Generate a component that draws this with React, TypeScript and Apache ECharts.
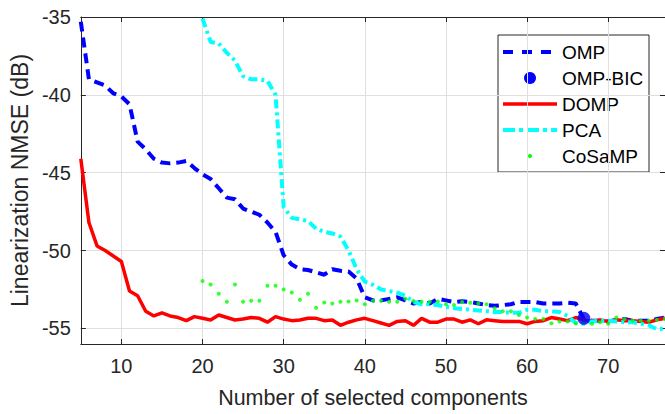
import React, { useEffect, useRef } from "react";
import * as echarts from "echarts";

const N = [5, 6, 7, 8, 9, 10, 11, 12, 13, 14, 15, 16, 17, 18, 19, 20, 21, 22, 23, 24, 25, 26, 27, 28, 29, 30, 31, 32, 33, 34, 35, 36, 37, 38, 39, 40, 41, 42, 43, 44, 45, 46, 47, 48, 49, 50, 51, 52, 53, 54, 55, 56, 57, 58, 59, 60, 61, 62, 63, 64, 65, 66, 67, 68, 69, 70, 71, 72, 73, 74, 75, 76, 77];

const OMP = [
  -35.3, -39.0, -39.2, -39.4, -39.9, -40.1, -40.6, -43.0, -43.5, -44.1,
  -44.35, -44.4, -44.35, -44.25, -44.7, -45.1, -45.4, -46.0, -46.6, -46.7,
  -47.3, -47.5, -47.7, -48.2, -48.8, -50.3, -50.9, -51.2, -51.25, -51.4,
  -51.55, -51.2, -51.3, -51.35, -51.8, -53.0, -53.2, -53.2, -53.1, -53.0,
  -53.2, -53.4, -53.3, -53.4, -53.1, -53.2, -53.3, -53.25, -53.3, -53.4,
  -53.5, -53.55, -53.5, -53.45, -53.3, -53.3, -53.3, -53.4, -53.4, -53.4,
  -53.35, -53.4, -54.4, -54.5, -54.5, -54.55, -54.45, -54.4, -54.5, -54.5,
  -54.5, -54.4, -54.3,
];

const OMP_BIC_N = [67];
const OMP_BIC = [-54.35];

const DOMP = [
  -44.1, -48.2, -49.7, -50.0, -50.35, -50.7, -52.6, -52.9, -53.9, -54.2,
  -54.0, -54.2, -54.3, -54.5, -54.24, -54.35, -54.46, -54.14, -54.3, -54.46,
  -54.4, -54.3, -54.35, -54.6, -54.24, -54.4, -54.5, -54.46, -54.35, -54.35,
  -54.5, -54.46, -54.8, -54.6, -54.45, -54.35, -54.5, -54.65, -54.8, -54.55,
  -54.5, -54.8, -54.35, -54.6, -54.6, -54.4, -54.4, -54.6, -54.45, -54.7,
  -54.45, -54.5, -54.55, -54.55, -54.55, -54.7, -54.55, -54.5, -54.3, -54.4,
  -54.5, -54.3, -54.45, -54.55, -54.45, -54.55, -54.45, -54.5, -54.5, -54.55,
  -54.6, -54.45, -54.35,
];

const PCA = [
  null, null, null, null, null, null, null, null, null, null,
  null, null, null, null, null, -35.1, -36.6, -36.7, -37.3, -37.8,
  -38.8, -39.0, -39.0, -39.1, -40.0, -47.2, -47.9, -48.0, -48.1, -48.6,
  -48.8, -48.9, -49.1, -50.0, -51.2, -52.0, -52.2, -52.5, -52.6, -52.7,
  -52.9, -53.3, -53.45, -53.45, -53.5, -53.6, -53.7, -53.75, -53.8, -53.85,
  -53.9, -53.95, -53.95, -54.0, -54.0, -53.8, -53.8, -53.9, -53.9, -53.95,
  -54.2, -54.65, -54.7, -54.55, -54.5, -54.5, -54.55, -54.6, -54.6, -54.7,
  -54.8, -55.05, -55.0,
];

const COSAMP = [
  null, null, null, null, null, null, null, null, null, null,
  null, null, null, null, null, -51.95, -52.18, -52.77, -53.28, -52.18,
  -53.28, -53.22, -53.22, -52.26, -52.26, -52.5, -52.69, -53.16, -52.77, -53.67,
  -53.33, -53.4, -53.28, -53.27, -53.2, -53.45, -53.22, -53.22, -53.28, -53.28,
  -53.1, -53.24, -53.28, -53.28, -53.27, -53.45, -53.5, -53.3, -53.35, -53.4,
  -53.45, -53.7, -53.9, -53.9, -54.14, -54.3, -54.4, -54.4, -54.67, -54.56,
  -54.56, -54.67, -54.6, -54.7, -54.6, -54.7, -54.3, -54.4, -54.5, -54.5,
  -54.5, -54.45, -54.4,
];

const X_TICKS = [10, 20, 30, 40, 50, 60, 70];
const Y_TICKS = [-55, -50, -45, -40, -35];
const LEGEND_NAMES = ["OMP", "OMP-BIC", "DOMP", "PCA", "CoSaMP"];

const FONT = "'Liberation Sans', Arial, Helvetica, sans-serif";
const AXIS_COLOR = "#262626";

function pairs(xs: number[], vals: (number | null)[]) {
  const out: number[][] = [];
  xs.forEach((x, i) => {
    const v = vals[i];
    if (v !== null && v !== undefined) out.push([x, v]);
  });
  return out;
}

export default function App() {
  const ref = useRef<HTMLDivElement>(null);

  useEffect(() => {
    if (!ref.current) return;
    const chart = echarts.init(ref.current, null, { renderer: "svg" });

    const baseX = {
      type: "value",
      min: 5,
      max: 77,
      axisLine: { show: true, onZero: false, lineStyle: { color: AXIS_COLOR, width: 1 } },
      axisTick: { show: true, inside: true, length: 5, customValues: X_TICKS, lineStyle: { color: AXIS_COLOR, width: 1 } },
    };
    const baseY = {
      type: "value",
      min: -56,
      max: -35,
      axisLine: { show: true, onZero: false, lineStyle: { color: AXIS_COLOR, width: 1 } },
      axisTick: { show: true, inside: true, length: 5, customValues: Y_TICKS, lineStyle: { color: AXIS_COLOR, width: 1 } },
    };

    // legend (drawn with graphic)
    const legendX = 498;
    const legendY = 35;
    const rowY = [52, 78, 104, 130, 156];
    const iconX1 = 503;
    const iconX2 = 557;
    const iconC = 530;
    const legendChildren: any[] = [
      {
        type: "rect",
        shape: { x: legendX, y: legendY, width: 151, height: 137 },
        style: { fill: "#ffffff", stroke: AXIS_COLOR, lineWidth: 1 },
      },
      {
        type: "line",
        shape: { x1: iconX1, y1: rowY[0], x2: iconX2, y2: rowY[0] },
        style: { stroke: "#0000ff", lineWidth: 4, lineDash: [10, 9] },
      },
      {
        type: "circle",
        shape: { cx: iconC, cy: rowY[1], r: 6 },
        style: { fill: "#0000ff" },
      },
      {
        type: "line",
        shape: { x1: iconX1, y1: rowY[2], x2: iconX2, y2: rowY[2] },
        style: { stroke: "#ff0000", lineWidth: 3.5 },
      },
      {
        type: "line",
        shape: { x1: iconX1, y1: rowY[3], x2: iconX2, y2: rowY[3] },
        style: { stroke: "#00ffff", lineWidth: 4, lineDash: [12, 4, 4, 4] },
      },
      {
        type: "circle",
        shape: { cx: iconC, cy: rowY[4], r: 2 },
        style: { fill: "#00ff00" },
      },
    ];
    LEGEND_NAMES.forEach((name, i) => {
      legendChildren.push({
        type: "text",
        x: 562,
        y: rowY[i],
        style: {
          text: name,
          fontSize: 19,
          fontFamily: FONT,
          fill: "#000000",
          verticalAlign: "middle",
          align: "left",
        },
      });
    });

    chart.setOption({
      animation: false,
      backgroundColor: "#ffffff",
      grid: { left: 77, top: 17, right: 0, bottom: 68, containLabel: false },
      xAxis: [
        {
          ...baseX,
          position: "bottom",
          axisLabel: { show: true, customValues: X_TICKS, margin: 12, fontSize: 20, color: AXIS_COLOR, fontFamily: FONT },
          splitLine: { show: true, lineStyle: { color: "#dfdfdf", width: 1 } },
          name: "Number of selected components",
          nameLocation: "middle",
          nameGap: 43,
          nameTextStyle: { fontSize: 21.5, color: AXIS_COLOR, fontFamily: FONT },
        },
        {
          ...baseX,
          position: "top",
          axisLabel: { show: false },
          splitLine: { show: false },
        },
      ],
      yAxis: [
        {
          ...baseY,
          position: "left",
          axisLabel: { show: true, customValues: Y_TICKS, margin: 10, fontSize: 20, color: AXIS_COLOR, fontFamily: FONT },
          splitLine: { show: true, lineStyle: { color: "#dfdfdf", width: 1 } },
          name: "Linearization NMSE (dB)",
          nameLocation: "middle",
          nameGap: 45,
          nameTextStyle: { fontSize: 23, color: AXIS_COLOR, fontFamily: FONT },
        },
        {
          ...baseY,
          position: "right",
          axisLabel: { show: false },
          splitLine: { show: false },
        },
      ],
      series: [
        {
          name: "OMP",
          type: "line",
          data: pairs(N, OMP),
          showSymbol: false,
          lineStyle: { color: "#0000ff", width: 4, type: [10, 6] },
          itemStyle: { color: "#0000ff" },
          z: 2,
        },
        {
          name: "DOMP",
          type: "line",
          data: pairs(N, DOMP),
          showSymbol: false,
          lineStyle: { color: "#ff0000", width: 3.5 },
          itemStyle: { color: "#ff0000" },
          z: 2,
        },
        {
          name: "PCA",
          type: "line",
          data: pairs(N, PCA),
          showSymbol: false,
          lineStyle: { color: "#00ffff", width: 4, type: [9, 4, 3, 4] },
          itemStyle: { color: "#00ffff" },
          z: 2,
        },
        {
          name: "CoSaMP",
          type: "scatter",
          data: pairs(N, COSAMP),
          symbol: "circle",
          symbolSize: 4,
          itemStyle: { color: "#00ff00" },
          z: 3,
        },
        {
          name: "OMP-BIC",
          type: "scatter",
          data: pairs(OMP_BIC_N, OMP_BIC),
          symbol: "circle",
          symbolSize: 13,
          itemStyle: { color: "#0000ff" },
          z: 4,
        },
      ],
      graphic: [{ type: "group", z: 100, children: legendChildren }],
    });

    return () => chart.dispose();
  }, []);

  return (
    <div
      ref={ref}
      style={{ position: "fixed", left: 0, top: 0, width: 665, height: 414 }}
    />
  );
}
